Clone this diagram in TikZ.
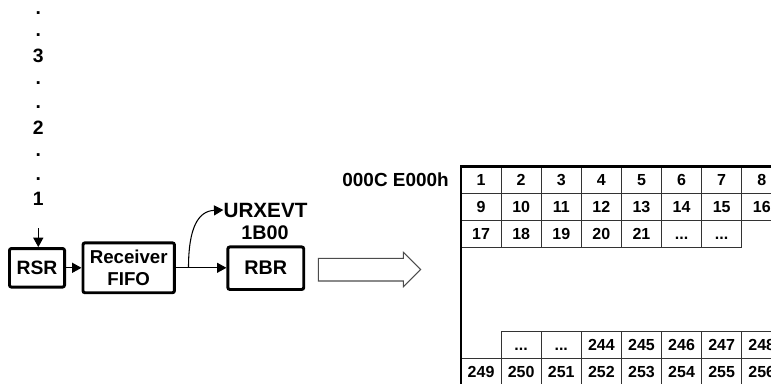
\documentclass[tikz,border=0pt]{standalone}
\usepackage{fontspec}
\setmainfont{Liberation Sans}
\usetikzlibrary{arrows.meta}
\begin{document}
\begin{tikzpicture}[x=0.75pt,y=-0.75pt,
  lbl/.style={font=\fontsize{14.5}{17}\selectfont\bfseries, inner sep=0pt},
  blk/.style={draw, line width=2.2pt, rounded corners=1.5pt, align=center,
    font=\fontsize{14}{16.5}\selectfont\bfseries, inner sep=0pt},
  cell/.style={draw=black!80, line width=0.75pt, minimum width=30.075pt,
    minimum height=20.25pt, inner sep=0pt, text height=8.6pt, text depth=0pt,
    font=\fontsize{12}{12}\selectfont\bfseries},
  arr/.style={line width=0.8pt, -{Triangle[length=7pt,width=7.5pt]}},
  thickline/.style={line width=2.2pt},
  hollow/.style={draw=black!70, line width=0.8pt, line join=miter},
]
\useasboundingbox (0,0) rectangle (771,383);
\clip (0,0) rectangle (771,383);

% vertical sequence of bits
\node[lbl] (p1) at (38.3,13.3) {.};
\node[lbl] (p2) at (38.3,35.5) {.};
\node[lbl] (b3) at (38.3,55.5) {3};
\node[lbl] (p3) at (38.3,83.5) {.};
\node[lbl] (p4) at (38.3,107.3) {.};
\node[lbl] (b2) at (38.3,127.3) {2};
\node[lbl] (p5) at (38.3,155.3) {.};
\node[lbl] (p6) at (38.3,179.3) {.};
\node[lbl] (b1) at (38.3,199) {1};

% blocks
\node[blk, minimum width=41.3pt, minimum height=28.9pt, font=\fontsize{14.5}{16.5}\selectfont\bfseries] (rsr) at (37,267.8) {RSR};
\node[blk, minimum width=68.6pt, minimum height=37.4pt] (fifo) at (128.7,267.8) {Receiver\\FIFO};
\node[blk, minimum width=56.9pt, minimum height=31.9pt, font=\fontsize{14.8}{16.5}\selectfont\bfseries] (rbr) at (265.8,268.2) {RBR};
\node[lbl, font=\fontsize{15.5}{17}\selectfont\bfseries] (urx) at (265.5,210) {URXEVT};
\node[lbl, font=\fontsize{14.8}{17}\selectfont\bfseries] (evt) at (265,233) {1B00};

\coordinate (in1) at (38.3,228);
\coordinate (split) at (188.5,267.8);
\draw[arr] (in1) -- (rsr.north -| in1);
\draw[arr] (rsr.east) -- (fifo.west);
\draw[arr] (fifo.east) -- (fifo.east -| rbr.west);
\draw[arr] (split) .. controls (188.5,228) and (198,211) .. (urx.west);

% hollow arrow
\draw[hollow] (318.3,258.3) -- (403.3,258.3) -- (403.3,252.3) -- (420.7,269.5)
  -- (403.3,286.7) -- (403.3,281) -- (318.3,281) -- cycle;

% address label
\node[lbl, anchor=east, font=\fontsize{14.2}{16}\selectfont\bfseries] (addr) at (449,179.5) {000C E000h};

% memory grid
\foreach \t [count=\i from 0] in {1,2,3,4,5,6,7,8}
  \node[cell] (ra\i) at (481.05+40.1*\i,179.5) {\t};
\foreach \t [count=\i from 0] in {9,10,11,12,13,14,15,16}
  \node[cell] (rb\i) at (481.05+40.1*\i,206.5) {\t};
\foreach \t [count=\i from 0] in {17,18,19,20,21}
  \node[cell] (rc\i) at (481.05+40.1*\i,233.5) {\t};
\node[cell] (rc5) at (681.55,233.5) {...};
\node[cell] (rc6) at (721.65,233.5) {...};
\node[cell] (rd1) at (521.15,345) {...};
\node[cell] (rd2) at (561.25,345) {...};
\foreach \t [count=\i from 3] in {244,245,246,247,248}
  \node[cell] (rd\i) at (481.05+40.1*\i,345) {\t};
\foreach \t [count=\i from 0] in {249,250,251,252,253,254,255,256}
  \node[cell] (re\i) at (481.05+40.1*\i,372) {\t};

\draw[thickline] (461,390) -- (461,166.2) -- (780,166.2);
\end{tikzpicture}
\end{document}
